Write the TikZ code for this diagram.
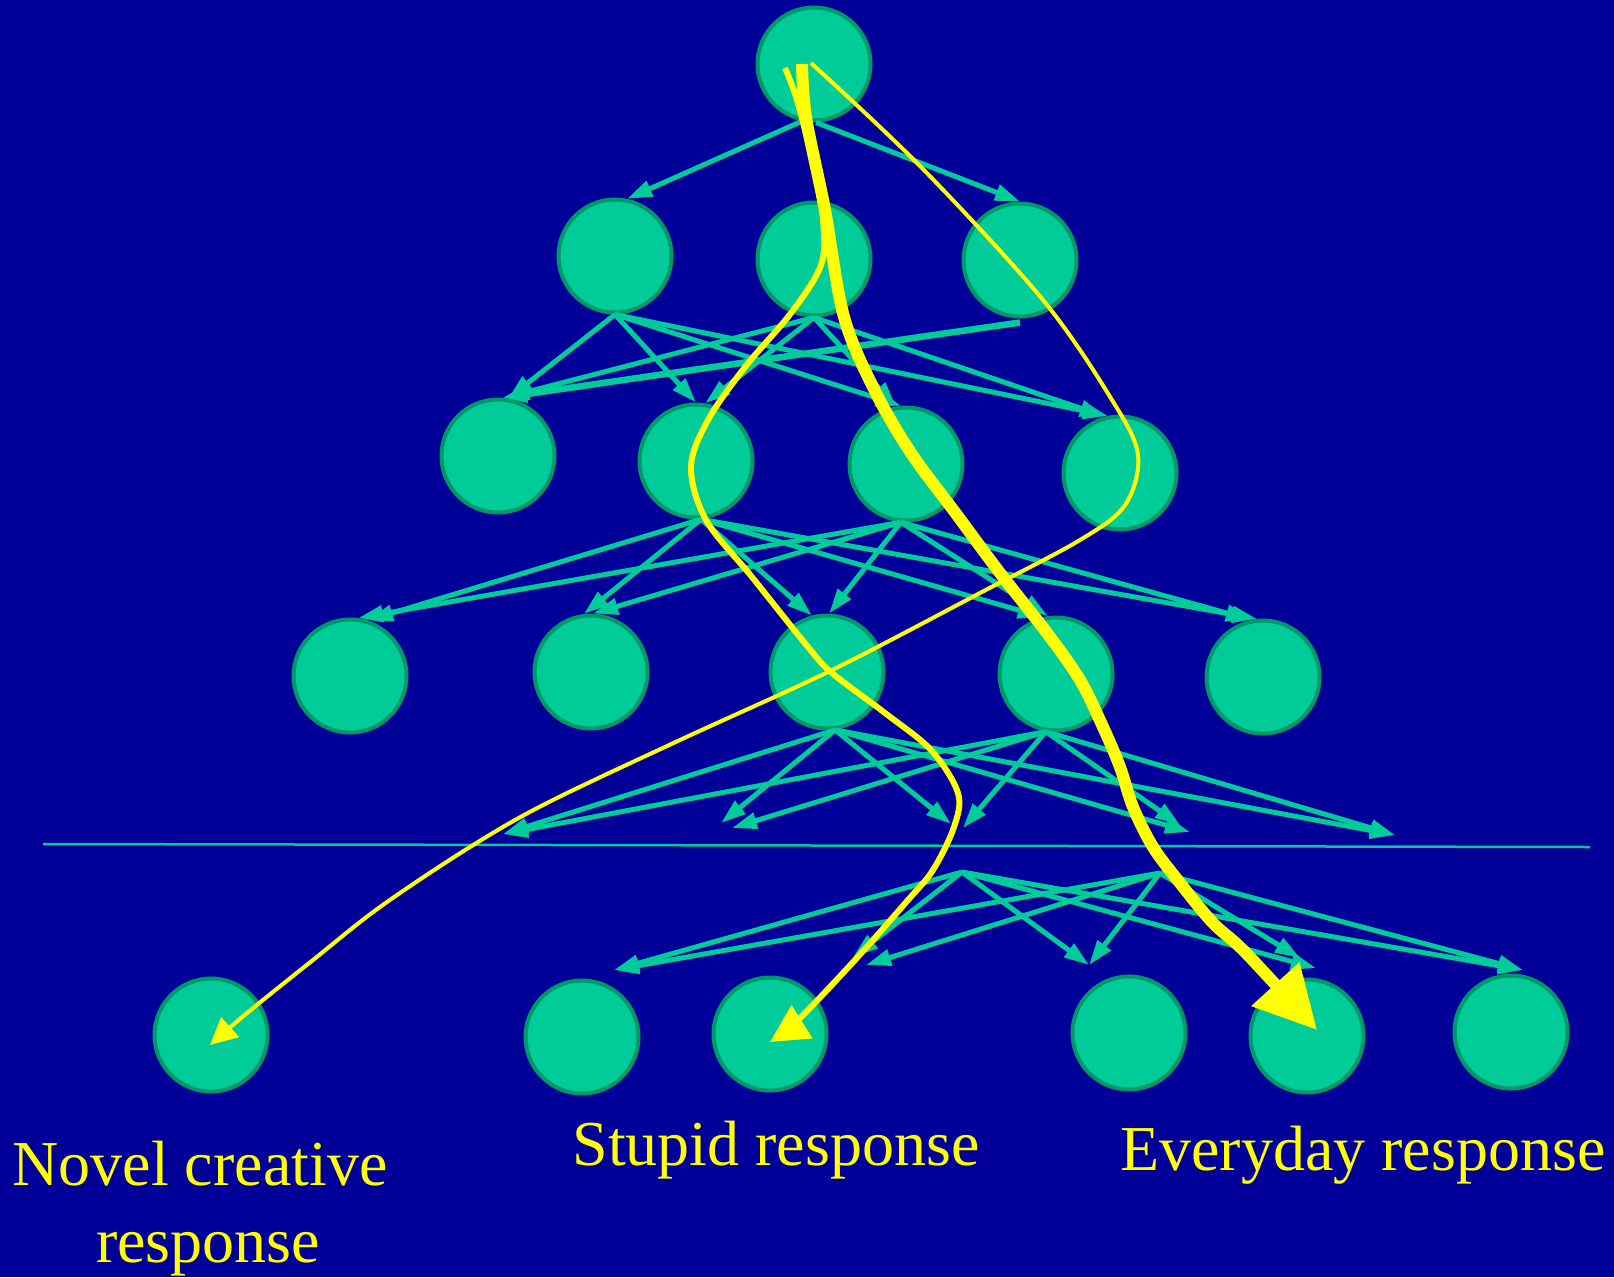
\documentclass[tikz,border=0pt]{standalone}
\usepackage{fontspec}
\setmainfont{Liberation Serif}
\usetikzlibrary{arrows.meta,calc}
\definecolor{bg}{HTML}{000099}
\definecolor{nodefill}{HTML}{00CC99}
\definecolor{nodeline}{HTML}{009966}
\definecolor{linkcol}{HTML}{00CC99}
\definecolor{yel}{HTML}{FFFF00}
\begin{document}
\begin{tikzpicture}[x=1pt,y=-1pt,
  neuron/.style={circle,fill=nodefill,draw=nodeline,line width=4pt,minimum size=113pt,inner sep=0pt},
  link/.style={draw=linkcol,line width=5pt,-{Triangle[length=25pt,width=16pt]}},
  thicklink/.style={link,line width=6.5pt},
  hline/.style={draw=linkcol,line width=2.5pt},
  pathA/.style={draw=yel,line width=4pt,line join=round,-{Triangle[length=27pt,width=26pt]}},
  pathB/.style={draw=yel,line width=6pt,line join=round,-{Triangle[length=38pt,width=38pt]}},
  pathC/.style={draw=yel,line width=12pt,line join=round,-{Triangle[length=62pt,width=62pt]}},
  lbl/.style={text=yel,font=\fontsize{64}{77}\selectfont,inner sep=0pt,anchor=base}
]
\fill[bg] (0,0) rectangle (1614,1277);
\useasboundingbox (0,0) rectangle (1614,1277);

% nodes
\node[neuron] (T) at (814,64) {};
\node[neuron] (La) at (615,256) {};
\node[neuron] (Lb) at (814,259) {};
\node[neuron] (Lc) at (1020,260) {};
\node[neuron] (A) at (498,456) {};
\node[neuron] (B) at (696,461) {};
\node[neuron] (C) at (906,464) {};
\node[neuron] (D) at (1120,473) {};
\node[neuron] (M1) at (350,676) {};
\node[neuron] (M2) at (591,672) {};
\node[neuron] (M3) at (827,672) {};
\node[neuron] (M4) at (1056,674) {};
\node[neuron] (M5) at (1263,677) {};
\node[neuron] (B1) at (211,1035) {};
\node[neuron] (B2) at (582,1037) {};
\node[neuron] (B3) at (770,1034) {};
\node[neuron] (B4) at (1129,1033) {};
\node[neuron] (B5) at (1307,1036) {};
\node[neuron] (B6) at (1511,1032) {};

% free ends
\coordinate (hl1) at (43,844);
\coordinate (hl2) at (1590,847);
\coordinate (p1) at (503,834);
\coordinate (p2a) at (721,823);
\coordinate (p2b) at (732,828);
\coordinate (p3a) at (951,824);
\coordinate (p3b) at (963,828);
\coordinate (p4a) at (1190,832);
\coordinate (p4b) at (1180,825);
\coordinate (p5) at (1395,835);
\coordinate (s1) at (962,872);
\coordinate (s2) at (1160,873);
\coordinate (q1) at (614,970);
\coordinate (q2a) at (853,957);
\coordinate (q2b) at (866,965);
\coordinate (q3) at (1089,965);
\coordinate (q4a) at (1316,968);
\coordinate (q4b) at (1300,958);
\coordinate (q5) at (1523,970);

% separating line
\draw[hline] (hl1) -- (hl2);

% top -> layer 2
\draw[link] (T.-102) -- (La.78);
\draw[link] (T.-88) -- (Lc.north);

% layer 2 -> layer 3
\draw[link] (La.south) -- (A.80);
\draw[link] (La.south) -- (B.north);
\draw[link] (La.south) -- (C.95);
\draw[link] (La.south) -- (D.102);
\draw[link] (Lb.south) -- (A.84);
\draw[link] (Lb.south) -- (B.81);
\draw[link] (Lb.south) -- (C.100);
\draw[link] (Lb.south) -- (D.105);
\draw[thicklink] ([yshift=-4pt]Lc.south) -- (A.86);

% layer 3 -> layer 4
\draw[link] (B.-85) -- (M1.72);
\draw[link] (B.-85) -- (M2.97);
\draw[link] (B.-85) -- (M3.105);
\draw[link] (B.-85) -- (M4.103);
\draw[link] (B.-85) -- (M5.96);
\draw[link] (C.-95) -- (M1.82);
\draw[link] (C.-95) -- (M2.88);
\draw[link] (C.-95) -- (M3.88);
\draw[link] (C.-95) -- (M4.98);
\draw[link] (C.-95) -- (M5.102);

% layer 4 -> cut
\draw[link] (M3.-82) -- (p1);
\draw[link] (M3.-82) -- (p2a);
\draw[link] (M3.-82) -- (p3a);
\draw[link] (M3.-82) -- (p4a);
\draw[link] (M3.-82) -- (p5);
\draw[link] (M4.-100) -- (p1);
\draw[link] (M4.-100) -- (p2b);
\draw[link] (M4.-100) -- (p3b);
\draw[link] (M4.-100) -- (p4b);
\draw[link] (M4.-100) -- (p5);

% below the cut
\draw[link] (s1) -- (q1);
\draw[link] (s1) -- (q2a);
\draw[link] (s1) -- (q3);
\draw[link] (s1) -- (q4a);
\draw[link] (s1) -- (q5);
\draw[link] (s2) -- (q1);
\draw[link] (s2) -- (q2b);
\draw[link] (s2) -- (q3);
\draw[link] (s2) -- (q4b);
\draw[link] (s2) -- (q5);

% yellow paths
\coordinate (y1s) at (811,63);
\coordinate (y1e) at (210,1045);
\coordinate (y2s) at (785,68);
\coordinate (y2e) at (770,1042);
\coordinate (y3s) at (802,64);
\coordinate (y3e) at (1317,1030);

\draw[pathA] plot[smooth,tension=0.55] coordinates {(y1s) (921,167) (1043,300) (1112,400) (1138,455) (1125,505) (1080,540) (980,593) (832,670) (680,740) (547,803) (470,847) (380,907) (313,960) (247,1013) (y1e)};
\draw[pathB] plot[smooth,tension=0.55] coordinates {(y2s) (797,100) (812,160) (823,220) (821,265) (791,313) (745,367) (708,420) (691,467) (706,520) (752,577) (808,647) (832,673) (885,713) (931,750) (958,793) (954,827) (933,870) (908,900) (855,960) (798,1020) (y2e)};
\draw[pathC] plot[smooth,tension=0.55] coordinates {(y3s) (806,117) (825,210) (844,317) (875,391) (911,453) (957,515) (1000,573) (1047,633) (1080,680) (1103,727) (1120,767) (1133,807) (1153,847) (1180,883) (1213,923) (1246,953) (y3e)};

% labels
\node[lbl] (l1a) at (200,1185) {Novel creative};
\node[lbl] (l1b) at (208,1262) {response};
\node[lbl] (l2) at (776,1165) {Stupid response};
\node[lbl] (l3) at (1363,1170) {Everyday response};
\end{tikzpicture}
\end{document}
